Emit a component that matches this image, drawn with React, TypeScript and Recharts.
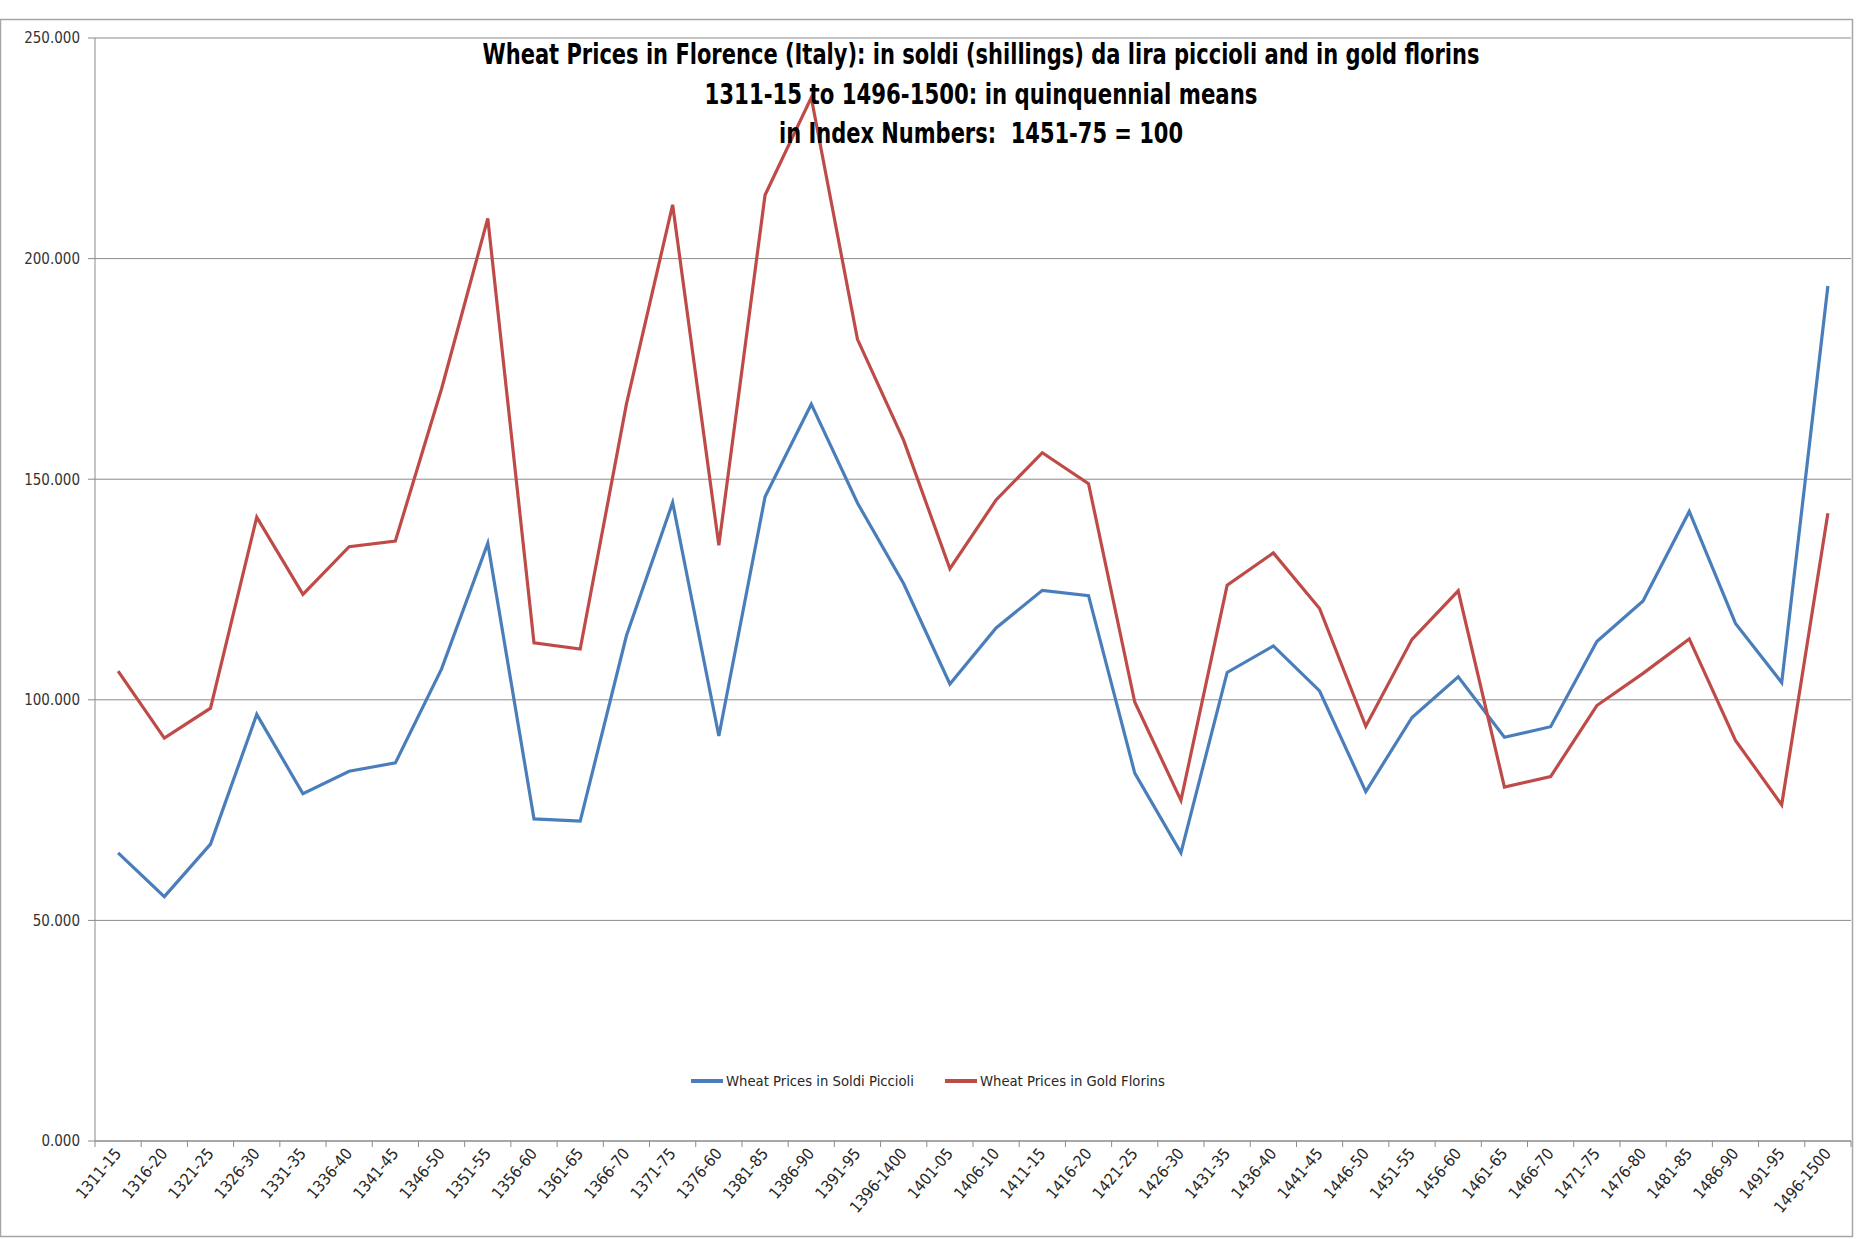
import React from 'react';
import { LineChart, Line, XAxis, YAxis, CartesianGrid, Legend } from 'recharts';

const categories = [
  '1311-15', '1316-20', '1321-25', '1326-30', '1331-35', '1336-40', '1341-45', '1346-50',
  '1351-55', '1356-60', '1361-65', '1366-70', '1371-75', '1376-60', '1381-85', '1386-90',
  '1391-95', '1396-1400', '1401-05', '1406-10', '1411-15', '1416-20', '1421-25', '1426-30',
  '1431-35', '1436-40', '1441-45', '1446-50', '1451-55', '1456-60', '1461-65', '1466-70',
  '1471-75', '1476-80', '1481-85', '1486-90', '1491-95', '1496-1500',
];

const soldiPiccioli = [
  65.3, 55.4, 67.3, 96.7, 78.7, 83.8, 85.7, 107.0,
  135.5, 73.0, 72.5, 114.5, 144.7, 91.8, 146.0, 167.0,
  144.6, 126.3, 103.6, 116.3, 124.8, 123.6, 83.4, 65.3,
  106.2, 112.2, 102.0, 79.2, 96.0, 105.2, 91.5, 93.9,
  113.2, 122.4, 142.7, 117.3, 103.9, 193.8,
];

const goldFlorins = [
  106.5, 91.3, 98.1, 141.4, 123.9, 134.7, 136.0, 170.5,
  209.1, 112.9, 111.5, 167.0, 212.2, 135.0, 214.4, 236.5,
  181.7, 158.8, 129.7, 145.3, 156.0, 149.0, 99.5, 77.2,
  126.0, 133.3, 120.7, 94.0, 113.7, 124.7, 80.2, 82.6,
  98.7, 106.0, 113.8, 90.8, 76.2, 142.3,
];

const yTicks = [0, 50, 100, 150, 200, 250];

const titleLines = [
  'Wheat Prices in Florence (Italy): in soldi (shillings) da lira piccioli and in gold florins',
  '1311-15 to 1496-1500: in quinquennial means',
  'in Index Numbers:  1451-75 = 100',
];
const titleWidths = [997, 553, 404];

const seriesNames = ['Wheat Prices in Soldi Piccioli', 'Wheat Prices in Gold Florins'];

const W = 1864;
const H = 1239;
const MARGIN = { top: 38, right: 13, bottom: 38, left: 0 };
const Y_AXIS_W = 95;
const X_AXIS_H = 60;
const STEP = (W - MARGIN.left - MARGIN.right - Y_AXIS_W) / categories.length;

const FONT = "'Liberation Sans Narrow', 'DejaVu Sans Condensed', 'Arial Narrow', sans-serif";
const GRID = '#8a8a8a';

const data = categories.map((c, i) => ({
  period: c,
  soldi: soldiPiccioli[i],
  florins: goldFlorins[i],
}));

function XTick(props: any) {
  const { x, y, payload } = props;
  const i = payload.index;
  const ax = x + 4;
  const ay = y + 13;
  return (
    <g>
      <line x1={x - STEP / 2} x2={x - STEP / 2} y1={y} y2={y + 6} stroke={GRID} />
      {i === categories.length - 1 && (
        <line x1={x + STEP / 2} x2={x + STEP / 2} y1={y} y2={y + 6} stroke={GRID} />
      )}
      <text
        x={ax}
        y={ay}
        transform={`rotate(-50, ${ax}, ${ay})`}
        textAnchor="end"
        fontSize={16}
        fill="#262626"
        fontFamily={FONT}
      >
        {payload.value}
      </text>
    </g>
  );
}

function renderLegend(props: any) {
  const payload = [...(props.payload || [])].sort(
    (a: any, b: any) => seriesNames.indexOf(a.value) - seriesNames.indexOf(b.value)
  );
  return (
    <div style={{ display: 'flex', alignItems: 'center', fontFamily: FONT, fontSize: 14.7, color: '#262626', whiteSpace: 'nowrap' }}>
      {payload.map((entry: any, i: number) => (
        <div key={i} style={{ display: 'flex', alignItems: 'center', marginRight: 31 }}>
          <svg width={32} height={6} style={{ display: 'block' }}>
            <line x1={0} y1={3} x2={32} y2={3} stroke={entry.color} strokeWidth={4} />
          </svg>
          <span style={{ marginLeft: 3 }}>{entry.value}</span>
        </div>
      ))}
    </div>
  );
}

export default function App() {
  return (
    <div style={{ position: 'absolute', left: 0, top: 0, width: W, height: H, background: '#fff' }}>
      <LineChart width={W} height={H} data={data} margin={MARGIN}>
        <CartesianGrid vertical={false} stroke={GRID} strokeWidth={1} />
        <XAxis
          dataKey="period"
          height={X_AXIS_H}
          interval={0}
          padding={{ left: STEP / 2, right: STEP / 2 }}
          tick={<XTick />}
          tickLine={false}
          tickSize={0}
          tickMargin={0}
          axisLine={{ stroke: GRID }}
        />
        <YAxis
          width={Y_AXIS_W}
          domain={[0, 250]}
          ticks={yTicks}
          tickFormatter={(v: number) => v.toFixed(3)}
          tickSize={7}
          tickMargin={8}
          tickLine={{ stroke: GRID }}
          axisLine={{ stroke: GRID }}
          tick={{ fontSize: 15, fill: '#333333', fontFamily: FONT }}
        />
        <Legend
          layout="horizontal"
          verticalAlign="middle"
          align="center"
          content={renderLegend}
          wrapperStyle={{ top: 1072, left: 691, width: 600, height: 20 }}
        />
        <Line
          type="linear"
          dataKey="soldi"
          name={seriesNames[0]}
          stroke="#4a7ebb"
          strokeWidth={3.2}
          dot={false}
          activeDot={false}
          isAnimationActive={false}
        />
        <Line
          type="linear"
          dataKey="florins"
          name={seriesNames[1]}
          stroke="#be4b48"
          strokeWidth={3.2}
          dot={false}
          activeDot={false}
          isAnimationActive={false}
        />
      </LineChart>
      <svg
        width={W}
        height={H}
        style={{ position: 'absolute', left: 0, top: 0, pointerEvents: 'none' }}
      >
        <rect x={0.5} y={19.5} width={1852} height={1217} fill="none" stroke="#a6a6a6" strokeWidth={1.5} />
        {titleLines.map((t, i) => (
          <text
            key={i}
            x={981}
            y={64 + i * 39.5}
            textAnchor="middle"
            fontSize={28}
            fontWeight="bold"
            fill="#000"
            fontFamily={FONT}
            textLength={titleWidths[i]}
            lengthAdjust="spacingAndGlyphs"
            style={{ whiteSpace: 'pre' }}
          >
            {t}
          </text>
        ))}
      </svg>
    </div>
  );
}
